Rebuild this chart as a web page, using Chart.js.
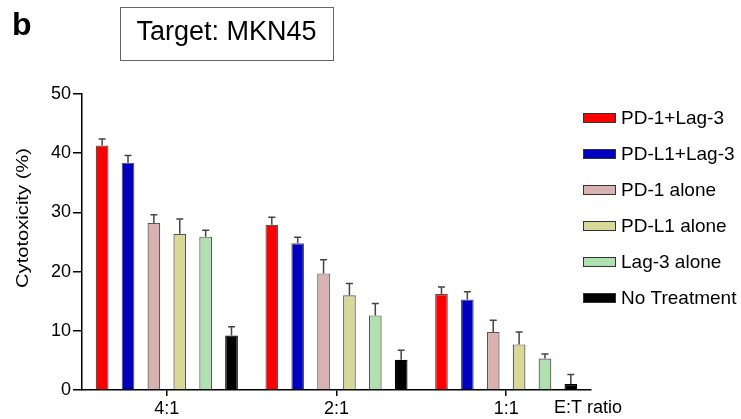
<!DOCTYPE html>
<html>
<head>
<meta charset="utf-8">
<script src="https://cdn.jsdelivr.net/npm/chart.js@4.4.1/dist/chart.umd.min.js"></script>
<style>
  body { margin: 0; background: #fff; }
  #wrap { width: 741px; height: 419px; position: relative; }
</style>
</head>
<body>
<div id="wrap"><canvas id="chart"></canvas></div>
<script>
const ratios = ["4:1", "2:1", "1:1"];
const groups = ["PD-1+Lag-3", "PD-L1+Lag-3", "PD-1 alone", "PD-L1 alone", "Lag-3 alone", "No Treatment"];
const colours = ["#ff0000", "#0000c0", "#d9b1b1", "#d8d898", "#b0e0b0", "#000000"];

// mean cytotoxicity (%) per ratio
const pd1Lag3   = [41.3, 27.9, 16.2];
const pdl1Lag3  = [38.4, 24.8, 15.3];
const pd1Alone  = [28.2, 19.7, 9.8];
const pdl1Alone = [26.4, 16.0, 7.7];
const lag3Alone = [25.9, 12.6, 5.3];
const noTreat   = [9.2, 5.1, 1.0];

// upper error (SD)
const pd1Lag3Err   = [1.1, 1.3, 1.2];
const pdl1Lag3Err  = [1.2, 1.0, 1.3];
const pd1AloneErr  = [1.4, 2.3, 2.0];
const pdl1AloneErr = [2.5, 2.0, 2.1];
const lag3AloneErr = [1.1, 2.0, 0.8];
const noTreatErr   = [1.5, 1.6, 1.6];

const values = [pd1Lag3, pdl1Lag3, pd1Alone, pdl1Alone, lag3Alone, noTreat];
const errors = [pd1Lag3Err, pdl1Lag3Err, pd1AloneErr, pdl1AloneErr, lag3AloneErr, noTreatErr];

const FONT = '"Liberation Sans", Arial, sans-serif';

// --- ERROR BARS ---
const errorBars = {
  id: "errorBars",
  afterDatasetsDraw(chart) {
    const ctx = chart.ctx;
    const y = chart.scales.y;
    ctx.save();
    ctx.strokeStyle = "#444";
    ctx.lineWidth = 1.5;
    chart.data.datasets.forEach((ds, i) => {
      const meta = chart.getDatasetMeta(i);
      meta.data.forEach((bar, j) => {
        const top = y.getPixelForValue(ds.data[j] + ds.err[j]);
        ctx.beginPath();
        ctx.moveTo(bar.x, bar.y);
        ctx.lineTo(bar.x, top);
        ctx.moveTo(bar.x - 3.5, top);
        ctx.lineTo(bar.x + 3.5, top);
        ctx.stroke();
      });
    });
    ctx.restore();
  }
};

// --- TEXTS, BOX, LEGEND ---
const decor = {
  id: "decor",
  afterDraw(chart) {
    const ctx = chart.ctx;
    ctx.save();
    ctx.fillStyle = "#000";

    ctx.font = "bold 32px " + FONT;
    ctx.textAlign = "left";
    ctx.textBaseline = "alphabetic";
    ctx.fillText("b", 12, 35);

    ctx.strokeStyle = "#666";
    ctx.lineWidth = 1;
    ctx.strokeRect(120.5, 7.5, 213, 53);
    ctx.font = "27px " + FONT;
    ctx.textAlign = "center";
    ctx.fillText("Target: MKN45", 226.5, 40);

    // y title
    ctx.save();
    ctx.translate(28, 218);
    ctx.rotate(-Math.PI / 2);
    ctx.scale(1.26, 1);
    ctx.font = "16px " + FONT;
    ctx.textAlign = "center";
    ctx.fillText("Cytotoxicity (%)", 0, 0);
    ctx.restore();

    ctx.font = "18px " + FONT;
    ctx.textAlign = "left";
    ctx.fillText("E:T ratio", 554, 413);

    // legend
    ctx.font = "19px " + FONT;
    ctx.textBaseline = "middle";
    chart.data.datasets.forEach((ds, i) => {
      const cy = 118 + i * 36;
      ctx.fillStyle = ds.backgroundColor;
      ctx.fillRect(583, cy - 5, 33, 10);
      ctx.strokeStyle = "#333";
      ctx.lineWidth = 1;
      ctx.strokeRect(583.5, cy - 4.5, 32, 9);
      ctx.fillStyle = "#000";
      ctx.fillText(ds.label, 621, cy + 1);
    });
    ctx.restore();
  }
};

new Chart(document.getElementById("chart"), {
  type: "bar",
  data: {
    labels: ratios,
    datasets: groups.map((g, i) => ({
      label: g,
      data: values[i],
      err: errors[i],
      backgroundColor: colours[i],
      borderColor: i === 5 ? "#000" : "#555",
      borderWidth: 1.2,
      barPercentage: 0.49,
      categoryPercentage: 0.915
    }))
  },
  options: {
    responsive: true,
    maintainAspectRatio: false,
    animation: false,
    layout: { padding: { left: 0, top: 94, right: 150, bottom: 0 } },
    plugins: { legend: { display: false }, tooltip: { enabled: false } },
    scales: {
      x: {
        afterFit: s => { s.height = 29; },
        grid: { offset: false, drawOnChartArea: false, drawTicks: true, tickLength: 6, color: "#000", lineWidth: 1.5 },
        border: { color: "#000", width: 1.5 },
        ticks: { color: "#000", padding: 2, font: { family: FONT, size: 18 } }
      },
      y: {
        min: 0,
        max: 50,
        afterFit: s => { s.width = 82; },
        grid: { drawOnChartArea: false, drawTicks: true, tickLength: 9, color: "#000", lineWidth: 1.5 },
        border: { color: "#000", width: 1.5 },
        ticks: { stepSize: 10, color: "#000", padding: 2, font: { family: FONT, size: 18 } }
      }
    }
  },
  plugins: [errorBars, decor]
});
</script>
</body>
</html>
